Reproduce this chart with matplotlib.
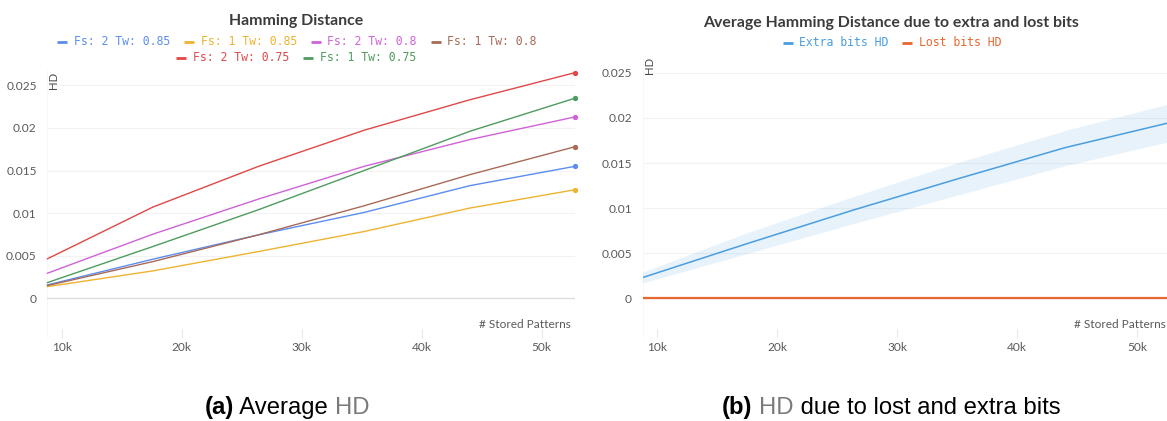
import matplotlib
matplotlib.use("Agg")
import matplotlib.pyplot as plt
from matplotlib.lines import Line2D
from matplotlib.ticker import FixedLocator, FuncFormatter

# ---------------- data ----------------
stored_patterns = [8800, 17600, 26400, 35200, 44000, 52800]

series_labels = ["Fs: 2 Tw: 0.85", "Fs: 1 Tw: 0.85", "Fs: 2 Tw: 0.8",
                 "Fs: 1 Tw: 0.8", "Fs: 2 Tw: 0.75", "Fs: 1 Tw: 0.75"]
series_colors = ["#5b8def", "#eeb330", "#d062d8", "#a86a57", "#e04848", "#4e9c5e"]

hd_fs2_tw085 = [0.00157, 0.00459, 0.00745, 0.01008, 0.01322, 0.0155]
hd_fs1_tw085 = [0.00137, 0.00322, 0.00549, 0.00784, 0.01059, 0.01275]
hd_fs2_tw080 = [0.00294, 0.00753, 0.01165, 0.01549, 0.01863, 0.0213]
hd_fs1_tw080 = [0.00149, 0.00431, 0.00745, 0.01086, 0.01451, 0.0178]
hd_fs2_tw075 = [0.00463, 0.01071, 0.01549, 0.01973, 0.0233, 0.0265]
hd_fs1_tw075 = [0.00184, 0.00608, 0.0104, 0.0150, 0.0196, 0.0235]

extra_bits_hd = [0.0023, 0.0061, 0.0098, 0.0133, 0.0167, 0.0195]
extra_bits_upper = [0.0029, 0.0073, 0.0113, 0.0151, 0.0186, 0.0216]
extra_bits_lower = [0.0017, 0.0050, 0.0083, 0.0115, 0.0147, 0.0174]
lost_bits_hd = [0.0, 0.0, 0.0, 0.0, 0.0, 0.0]

x_ticks = [10000, 20000, 30000, 40000, 50000]
y_ticks = [0, 0.005, 0.01, 0.015, 0.02, 0.025]
y_tick_labels = ["0", "0.005", "0.01", "0.015", "0.02", "0.025"]

# ---------------- figure ----------------
W, H = 1167, 421
fig = plt.figure(figsize=(W / 100, H / 100), dpi=100)
fig.patch.set_facecolor("white")

UI_FONT = ["Lato", "DejaVu Sans"]
MONO_FONT = ["DejaVu Sans Mono"]
TICK_COLOR = "#5a5a5a"


def px_axes(left, top, right, bottom):
    return fig.add_axes([left / W, 1 - bottom / H, (right - left) / W, (bottom - top) / H])


def style_axes(ax, ylim, hd_offset):
    ax.set_facecolor("white")
    for s in ax.spines.values():
        s.set_visible(False)
    ax.set_xlim(stored_patterns[0], stored_patterns[-1])
    ax.set_ylim(*ylim)
    ax.xaxis.set_major_locator(FixedLocator(x_ticks))
    ax.xaxis.set_major_formatter(FuncFormatter(lambda v, p: f"{int(v / 1000)}k"))
    ax.set_yticks(y_ticks)
    ax.set_yticklabels(y_tick_labels)
    ax.tick_params(axis="x", direction="in", length=6.5, width=0.8, color="#e8e8e8",
                   pad=3, labelsize=8.6, labelcolor=TICK_COLOR)
    ax.tick_params(axis="y", length=0, pad=7.6, labelsize=8.6, labelcolor=TICK_COLOR)
    for lab in ax.get_xticklabels() + ax.get_yticklabels():
        lab.set_family(UI_FONT)
    for yv in y_ticks[1:]:
        ax.axhline(yv, color="#f2f2f2", lw=0.8, zorder=0)
    ax.axhline(0, color="#dddddd", lw=1.0, zorder=0.5)
    ax.axvline(stored_patterns[0], color="#f6f6f6", lw=1.2, zorder=0)
    ax.annotate("HD", xy=(0, 1), xycoords="axes fraction", xytext=hd_offset,
                textcoords="offset pixels", rotation=90, ha="center", va="center",
                fontsize=8.2, color="#4a4a4a", family=UI_FONT)
    ax.annotate("# Stored Patterns", xy=(1, 0), xycoords="axes fraction",
                xytext=(-4.6, 14), textcoords="offset pixels", ha="right", va="center",
                fontsize=8.6, color=TICK_COLOR, family=UI_FONT)


# left panel: average HD per configuration
ax1 = px_axes(47.3, 70, 575.3, 338)
style_axes(ax1, (-0.00466, 0.0268), (6.2, -10.5))
all_series = [hd_fs2_tw085, hd_fs1_tw085, hd_fs2_tw080, hd_fs1_tw080, hd_fs2_tw075, hd_fs1_tw075]
for vals, col in zip(all_series, series_colors):
    ax1.plot(stored_patterns, vals, color=col, lw=1.0, solid_capstyle="round", zorder=3,
             clip_on=False)
    ax1.plot(stored_patterns[-1:], vals[-1:], "o", color=col, ms=2.8, zorder=4, clip_on=False)

# right panel: extra vs lost bits
ax2 = px_axes(642.6, 58, 1170.6, 338)
style_axes(ax2, (-0.0044, 0.02664), (7.4, -7.5))
extra_color = "#4a9edf"
lost_color = "#e8672f"
ax2.fill_between(stored_patterns, extra_bits_lower, extra_bits_upper, color=extra_color,
                 alpha=0.13, lw=0, zorder=2)
ax2.plot(stored_patterns, extra_bits_hd, color=extra_color, lw=1.1, zorder=3)
ax2.plot(stored_patterns, lost_bits_hd, color=lost_color, lw=1.6, zorder=3)

# ---------------- titles, legends, captions ----------------
fig.canvas.draw()
renderer = fig.canvas.get_renderer()


def fx(x):
    return x / W


def fy(y):
    return 1 - y / H


def text_width(t):
    return t.get_window_extent(renderer).width


def draw_legend_row(items, cx, cy, fontsize=8.3):
    texts = []
    for label, col in items:
        t = fig.text(0, fy(cy), label, color=col, fontsize=fontsize, family=MONO_FONT,
                     ha="left", va="center")
        texts.append(t)
    mark_w, mark_gap, item_gap = 10, 6.5, 14
    widths = [text_width(t) for t in texts]
    total = sum(mark_w + mark_gap + w for w in widths) + item_gap * (len(items) - 1)
    x = cx - total / 2
    for (label, col), t, w in zip(items, texts, widths):
        fig.add_artist(Line2D([fx(x), fx(x + mark_w)], [fy(cy), fy(cy)], color=col,
                              lw=2.0, solid_capstyle="butt", transform=fig.transFigure))
        t.set_x(fx(x + mark_w + mark_gap))
        x += mark_w + mark_gap + w + item_gap


def draw_title(text, cx, cy):
    fig.text(fx(cx), fy(cy), text, ha="center", va="center", fontsize=11.4,
             fontweight="bold", color="#3c3c3c", family=UI_FONT)


def draw_caption(parts, cx, base_y, fontsize=17.2):
    texts = []
    for s, weight, col in parts:
        t = fig.text(0, fy(base_y), s, fontsize=fontsize, fontweight=weight, color=col,
                     family=["Liberation Sans", "DejaVu Sans"], ha="left", va="baseline")
        texts.append(t)
    widths = [text_width(t) for t in texts]
    x = cx - sum(widths) / 2
    for t, w in zip(texts, widths):
        t.set_x(fx(x))
        x += w


draw_title("Hamming Distance", 296, 21)
legend_items = list(zip(series_labels, series_colors))
draw_legend_row(legend_items[:4], 297, 41.5)
draw_legend_row(legend_items[4:], 296, 57.5)

draw_title("Average Hamming Distance due to extra and lost bits", 891, 23)
draw_legend_row([("Extra bits HD", extra_color), ("Lost bits HD", lost_color)], 892, 43)

draw_caption([("(a)", "bold", "black"), (" Average ", "normal", "black"),
              ("HD", "normal", "#7a7a7a")], 287, 414)
draw_caption([("(b)", "bold", "black"), (" ", "normal", "black"), ("HD", "normal", "#7a7a7a"),
              (" due to lost and extra bits", "normal", "black")], 891, 414)

fig.savefig("out.png", dpi=100, facecolor="white")
